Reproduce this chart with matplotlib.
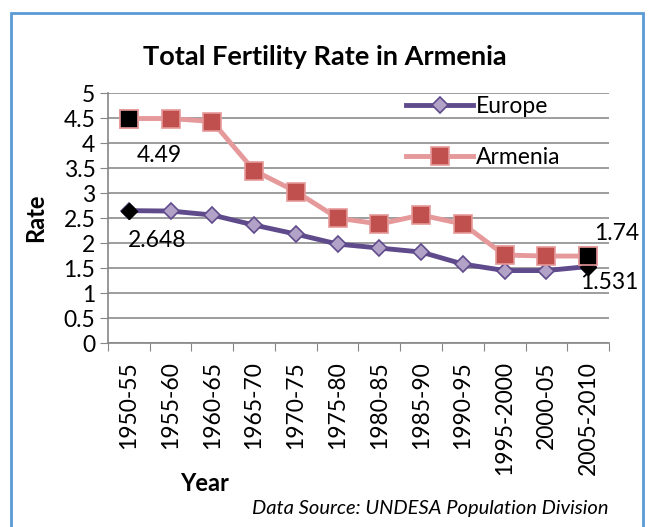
import matplotlib.pyplot as plt
from matplotlib.patches import Rectangle

plt.rcParams["font.family"] = ["Lato", "DejaVu Sans"]

PERIODS = ["1950-55", "1955-60", "1960-65", "1965-70", "1970-75", "1975-80",
           "1980-85", "1985-90", "1990-95", "1995-2000", "2000-05", "2005-2010"]
EUROPE = [2.648, 2.64, 2.56, 2.36, 2.18, 1.98, 1.90, 1.82, 1.58, 1.45, 1.45, 1.531]
ARMENIA = [4.49, 4.49, 4.43, 3.45, 3.03, 2.50, 2.38, 2.56, 2.38, 1.76, 1.74, 1.74]

fig = plt.figure(figsize=(6.5, 5.27), dpi=100)
fig.patches.append(Rectangle((0.017, -0.01), 0.972, 0.985, transform=fig.transFigure,
                             fill=False, edgecolor="#5B9BD5", linewidth=2))
ax = fig.add_axes([0.166, 0.349, 0.771, 0.4745])

x = list(range(len(PERIODS)))
ax.plot(x, EUROPE, color="#5F4B8B", linewidth=3.5, marker="D", markersize=8.5,
        markerfacecolor="#B3A2C7", markeredgecolor="#5F4B8B", markeredgewidth=1.2,
        label="Europe", zorder=3)
ax.plot(x, ARMENIA, color="#E6999A", linewidth=3.5, marker="s", markersize=13,
        markerfacecolor="#C0504D", markeredgecolor="#E6999A", markeredgewidth=1.2,
        label="Armenia", zorder=3)
# highlighted end points
for i in (0, len(x) - 1):
    ax.plot(x[i], EUROPE[i], marker="D", markersize=8.5, color="black", zorder=4)
    ax.plot(x[i], ARMENIA[i], marker="s", markersize=13, color="black",
            markeredgecolor="#E6999A", markeredgewidth=1.2, zorder=4)

lab = dict(fontsize=16.5, va="center")
ax.text(x[0] + 0.2, ARMENIA[0] - 0.73, f"{ARMENIA[0]}", **lab)
ax.text(x[0] - 0.03, EUROPE[0] - 0.59, f"{EUROPE[0]}", **lab)
ax.text(x[-1] + 0.15, ARMENIA[-1] + 0.46, f"{ARMENIA[-1]}", **lab)
ax.text(x[-1] - 0.2, EUROPE[-1] - 0.31, f"{EUROPE[-1]}", **lab)

ax.set_xlim(-0.5, len(x) - 0.5)
ax.set_ylim(0, 5)
ax.set_yticks([i * 0.5 for i in range(11)])
ax.set_yticklabels(["0", "0.5", "1", "1.5", "2", "2.5", "3", "3.5", "4", "4.5", "5"])
ax.set_xticks([i - 0.5 for i in range(len(x) + 1)], minor=False)
ax.set_xticklabels([])
ax.set_xticks(x, minor=True)
ax.set_xticklabels(PERIODS, minor=True, rotation=90)
ax.tick_params(axis="x", which="minor", length=0, labelsize=16.5, pad=13)
ax.tick_params(axis="x", which="major", length=6, color="#868686", direction="out")
ax.tick_params(axis="y", length=6, color="#868686", labelsize=16.5, pad=3)
ax.grid(axis="y", color="#8C8C8C", linewidth=1.2)
ax.set_axisbelow(True)
for s in ("top", "right"):
    ax.spines[s].set_visible(False)
for s in ("left", "bottom"):
    ax.spines[s].set_color("#868686")
    ax.spines[s].set_linewidth(1.2)

ax.legend(loc="upper right", bbox_to_anchor=(0.945, 1.07), frameon=False, fontsize=16.5,
          handlelength=2.9, labelspacing=1.3, handletextpad=0.15)

fig.text(0.5, 0.892, "Total Fertility Rate in Armenia", fontsize=19.5, fontweight="bold",
         ha="center", va="center")
fig.text(0.055, 0.586, "Rate", fontsize=17, fontweight="bold", rotation=90,
         ha="center", va="center")
fig.text(0.315, 0.083, "Year", fontsize=17, fontweight="bold", ha="center", va="center")
fig.text(0.662, 0.036, "Data Source: UNDESA Population Division", fontsize=14.5,
         style="italic", ha="center", va="center")

fig.savefig("out.png", dpi=100)
